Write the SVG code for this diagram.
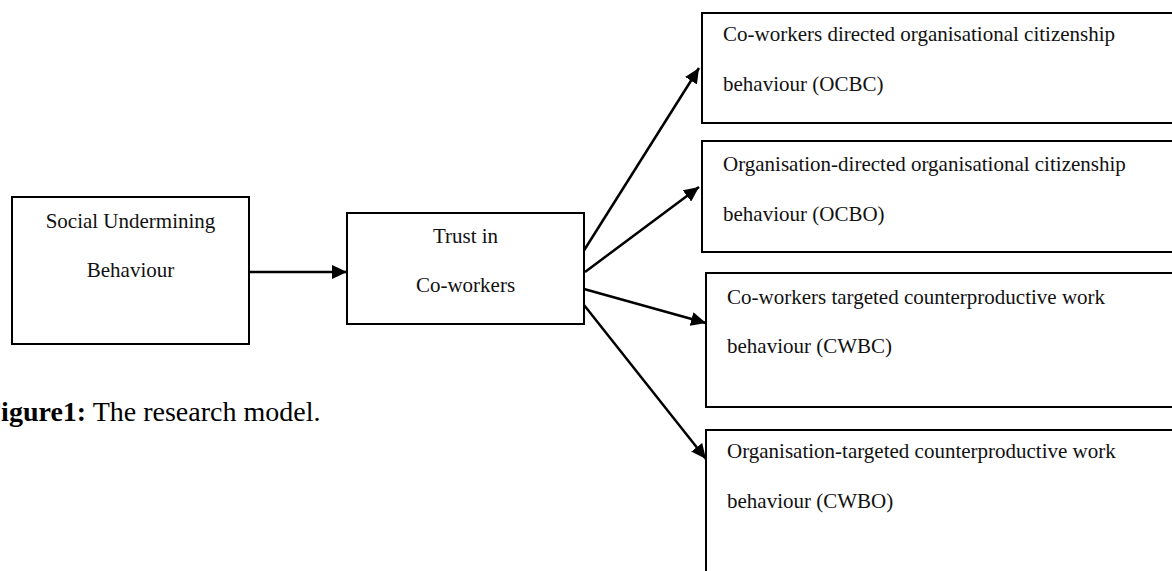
<svg xmlns="http://www.w3.org/2000/svg" width="1172" height="571" viewBox="0 0 1172 571">
<style>
.box{fill:#fff;stroke:#000;stroke-width:2}
.t{font-family:"Liberation Serif","Times New Roman",serif;font-size:21px;fill:#111}
.c{text-anchor:middle}
.ln{stroke:#000;stroke-width:2.5;fill:none;marker-end:url(#ah)}
.cap{font-family:"Liberation Serif","Times New Roman",serif;font-size:28px;fill:#000}
</style>
<defs>
<marker id="ah" markerUnits="userSpaceOnUse" markerWidth="16" markerHeight="14" refX="15" refY="7" orient="auto">
<path d="M0,0 L15,7 L0,14 z" fill="#000"/>
</marker>
</defs>
<rect width="1172" height="571" fill="#fff"/>
<g id="connectors">
<line class="ln" x1="249" y1="272" x2="347" y2="272"/>
<line class="ln" x1="583" y1="252" x2="699" y2="68"/>
<line class="ln" x1="585" y1="272" x2="699" y2="187"/>
<line class="ln" x1="584" y1="289" x2="706" y2="323"/>
<line class="ln" x1="584" y1="305" x2="706" y2="459"/>
</g>
<g id="social-undermining">
<rect class="box" x="12" y="197" width="237" height="147"/>
<text class="t c" x="130.5" y="228">Social Undermining</text>
<text class="t c" x="130.5" y="277">Behaviour</text>
</g>
<g id="trust">
<rect class="box" x="347" y="213" width="237" height="111"/>
<text class="t c" x="465.5" y="243">Trust in</text>
<text class="t c" x="465.5" y="292">Co-workers</text>
</g>
<g id="ocbc">
<rect class="box" x="702" y="13" width="520" height="110"/>
<text class="t" x="723" y="41">Co-workers directed organisational citizenship</text>
<text class="t" x="723" y="91">behaviour (OCBC)</text>
</g>
<g id="ocbo">
<rect class="box" x="702" y="141" width="520" height="111"/>
<text class="t" x="723" y="171">Organisation-directed organisational citizenship</text>
<text class="t" x="723" y="221">behaviour (OCBO)</text>
</g>
<g id="cwbc">
<rect class="box" x="706" y="273" width="520" height="134"/>
<text class="t" x="727" y="304">Co-workers targeted counterproductive work</text>
<text class="t" x="727" y="353">behaviour (CWBC)</text>
</g>
<g id="cwbo">
<rect class="box" x="706" y="430" width="520" height="200"/>
<text class="t" x="727" y="458">Organisation-targeted counterproductive work</text>
<text class="t" x="727" y="508">behaviour (CWBO)</text>
</g>
<g id="caption">
<text class="cap" x="-16" y="421"><tspan font-weight="bold">Figure1:</tspan> The research model.</text>
</g>
</svg>
